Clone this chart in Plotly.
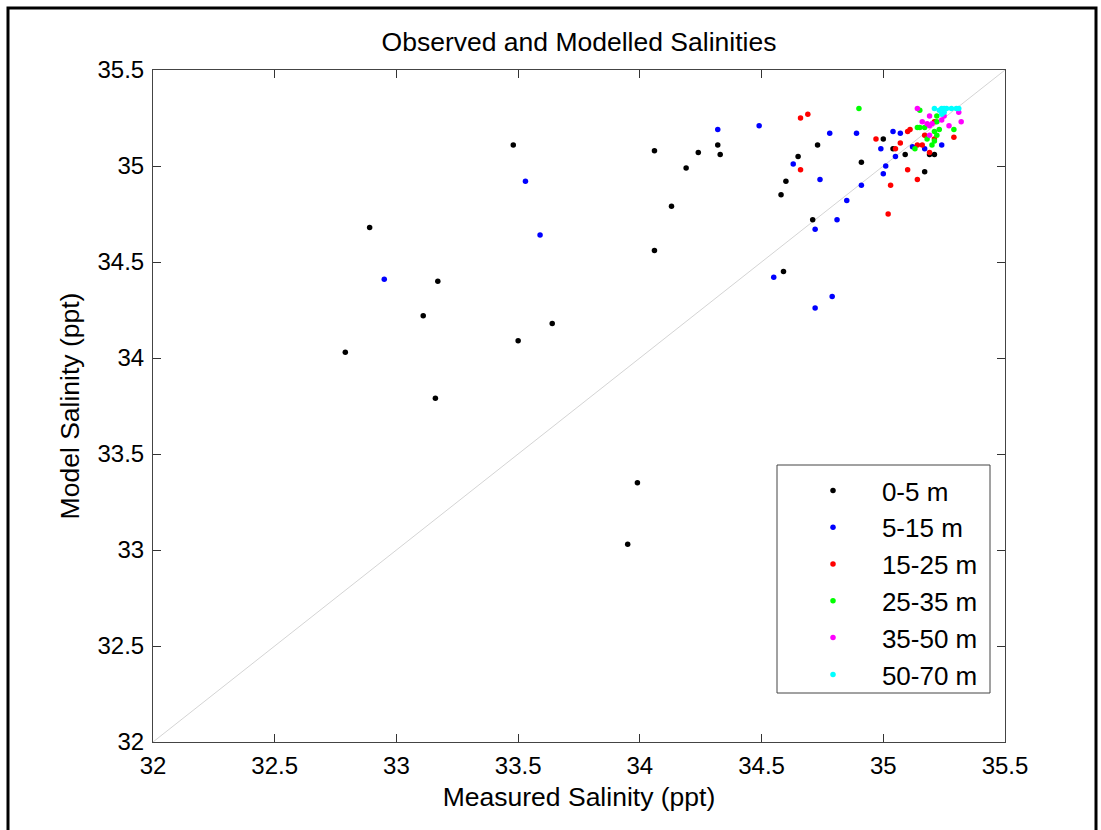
import plotly.graph_objects as go

# ---- data (measured, modelled) per depth band ----
labels = ["0-5 m", "5-15 m", "15-25 m", "25-35 m", "35-50 m", "50-70 m"]
colors = ["#000000", "#0000ff", "#ff0000", "#00ff00", "#ff00ff", "#00ffff"]

meas_0_5 = [32.79, 32.89, 33.11, 33.17, 33.16, 33.48, 33.50, 33.64, 33.95, 33.99,
            34.06, 34.06, 34.13, 34.19, 34.24, 34.32, 34.33,
            34.73, 34.65, 34.60, 34.58, 34.71, 34.59,
            34.91, 35.00, 35.04, 35.09, 35.19, 35.21, 35.17]
mod_0_5 = [34.03, 34.68, 34.22, 34.40, 33.79, 35.11, 34.09, 34.18, 33.03, 33.35,
           35.08, 34.56, 34.79, 34.99, 35.07, 35.11, 35.06,
           35.11, 35.05, 34.92, 34.85, 34.72, 34.45,
           35.02, 35.14, 35.09, 35.06, 35.06, 35.06, 34.97]

meas_5_15 = [32.95, 33.53, 33.59, 34.32, 34.49, 34.63, 34.74, 34.72, 34.55, 34.72, 34.79,
             34.78, 34.89, 35.04, 34.99, 35.05, 35.01, 35.00, 34.91, 34.85, 34.81,
             35.07, 35.12, 35.17, 35.24]
mod_5_15 = [34.41, 34.92, 34.64, 35.19, 35.21, 35.01, 34.93, 34.67, 34.42, 34.26, 34.32,
            35.17, 35.17, 35.18, 35.09, 35.05, 35.00, 34.96, 34.90, 34.82, 34.72,
            35.17, 35.10, 35.09, 35.11]

meas_15_25 = [34.66, 34.69, 34.66, 34.97, 35.05, 35.07, 35.03, 35.02, 35.14, 35.16, 35.19,
              35.10, 35.14, 35.10, 35.11, 35.17, 35.21, 35.29, 35.21]
mod_15_25 = [35.25, 35.27, 34.98, 35.14, 35.09, 35.12, 34.90, 34.75, 35.11, 35.11, 35.07,
             34.98, 34.93, 35.18, 35.19, 35.16, 35.23, 35.15, 35.14]

meas_25_35 = [34.90, 35.15, 35.22, 35.22, 35.14, 35.17, 35.21, 35.23, 35.29, 35.22,
              35.13, 35.20, 35.21, 35.15, 35.18]
mod_25_35 = [35.30, 35.29, 35.26, 35.23, 35.20, 35.20, 35.18, 35.19, 35.19, 35.16,
             35.09, 35.11, 35.13, 35.20, 35.14]

meas_35_50 = [35.14, 35.31, 35.32, 35.19, 35.24, 35.18, 35.19, 35.20, 35.27, 35.19, 35.16, 35.25]
mod_35_50 = [35.30, 35.28, 35.23, 35.26, 35.24, 35.22, 35.21, 35.22, 35.21, 35.16, 35.23, 35.26]

meas_50_70 = [35.21, 35.24, 35.25, 35.26, 35.24, 35.25, 35.30, 35.31, 35.23, 35.28]
mod_50_70 = [35.30, 35.30, 35.30, 35.30, 35.27, 35.28, 35.30, 35.30, 35.29, 35.30]

series = [(meas_0_5, mod_0_5), (meas_5_15, mod_5_15), (meas_15_25, mod_15_25),
          (meas_25_35, mod_25_35), (meas_35_50, mod_35_50), (meas_50_70, mod_50_70)]

axis_range = [32, 35.5]
tick_vals = [32, 32.5, 33, 33.5, 34, 34.5, 35, 35.5]
tick_text = ["32", "32.5", "33", "33.5", "34", "34.5", "35", "35.5"]

W, H = 1101, 830
L, R, T, B = 153, 96, 70, 88
pw, ph = W - L - R, H - T - B


def px(x):
    return (x - L) / pw


def py(y):
    return (H - B - y) / ph


fig = go.Figure()

# 1:1 line
fig.add_trace(go.Scatter(x=axis_range, y=axis_range, mode="lines",
                         line=dict(color="#d4d4d4", width=1),
                         showlegend=False, hoverinfo="skip"))

NB = "\u00a0"
for i, ((mx, my), lab, col) in enumerate(zip(series, labels, colors)):
    fig.add_trace(go.Scatter(x=mx, y=my, mode="markers", name=NB * 4 + lab,
                             legendgroup=f"g{i}",
                             marker=dict(color=col, size=5.5, line=dict(width=0))))

font_family = "Liberation Sans, Arial, sans-serif"
axis_common = dict(range=axis_range, tickvals=tick_vals, ticktext=tick_text,
                   ticks="inside", ticklen=8, tickwidth=1, tickcolor="#333",
                   showline=True, linecolor="#444", linewidth=1, mirror="ticks",
                   showgrid=False, zeroline=False,
                   tickfont=dict(family=font_family, size=24, color="#000"))

fig.update_layout(
    width=W, height=H,
    margin=dict(l=L, r=R, t=T, b=B),
    paper_bgcolor="white", plot_bgcolor="white",
    title=dict(text="Observed and Modelled Salinities", x=0.5, xref="paper",
               y=1 - 42 / H, yref="container", xanchor="center", yanchor="middle",
               font=dict(family=font_family, size=26.5, color="#000")),
    xaxis=dict(axis_common, title=dict(text="Measured Salinity (ppt)", standoff=9,
                                       font=dict(family=font_family, size=26.5, color="#000")),
               ticklabelstandoff=2),
    yaxis=dict(axis_common, title=dict(text="Model Salinity (ppt)", standoff=10,
                                       font=dict(family=font_family, size=26.5, color="#000")),
               ticklabelstandoff=3),
    legend=dict(x=px(813), y=py(467), xanchor="left", yanchor="top",
                bgcolor="rgba(0,0,0,0)", borderwidth=0,
                font=dict(family=font_family, size=26, color="#000"),
                tracegroupgap=0, itemsizing="trace"),
    shapes=[
        # legend box
        dict(type="rect", xref="paper", yref="paper",
             x0=px(777), x1=px(990), y0=py(693), y1=py(465),
             line=dict(color="#444", width=1), fillcolor="white", layer="above"),
        # outer frame
        dict(type="rect", xref="paper", yref="paper",
             x0=px(8), x1=px(1096), y0=py(845), y1=py(8),
             line=dict(color="#000", width=3), fillcolor="rgba(0,0,0,0)", layer="above"),
    ],
)

fig.write_html("out.html")
